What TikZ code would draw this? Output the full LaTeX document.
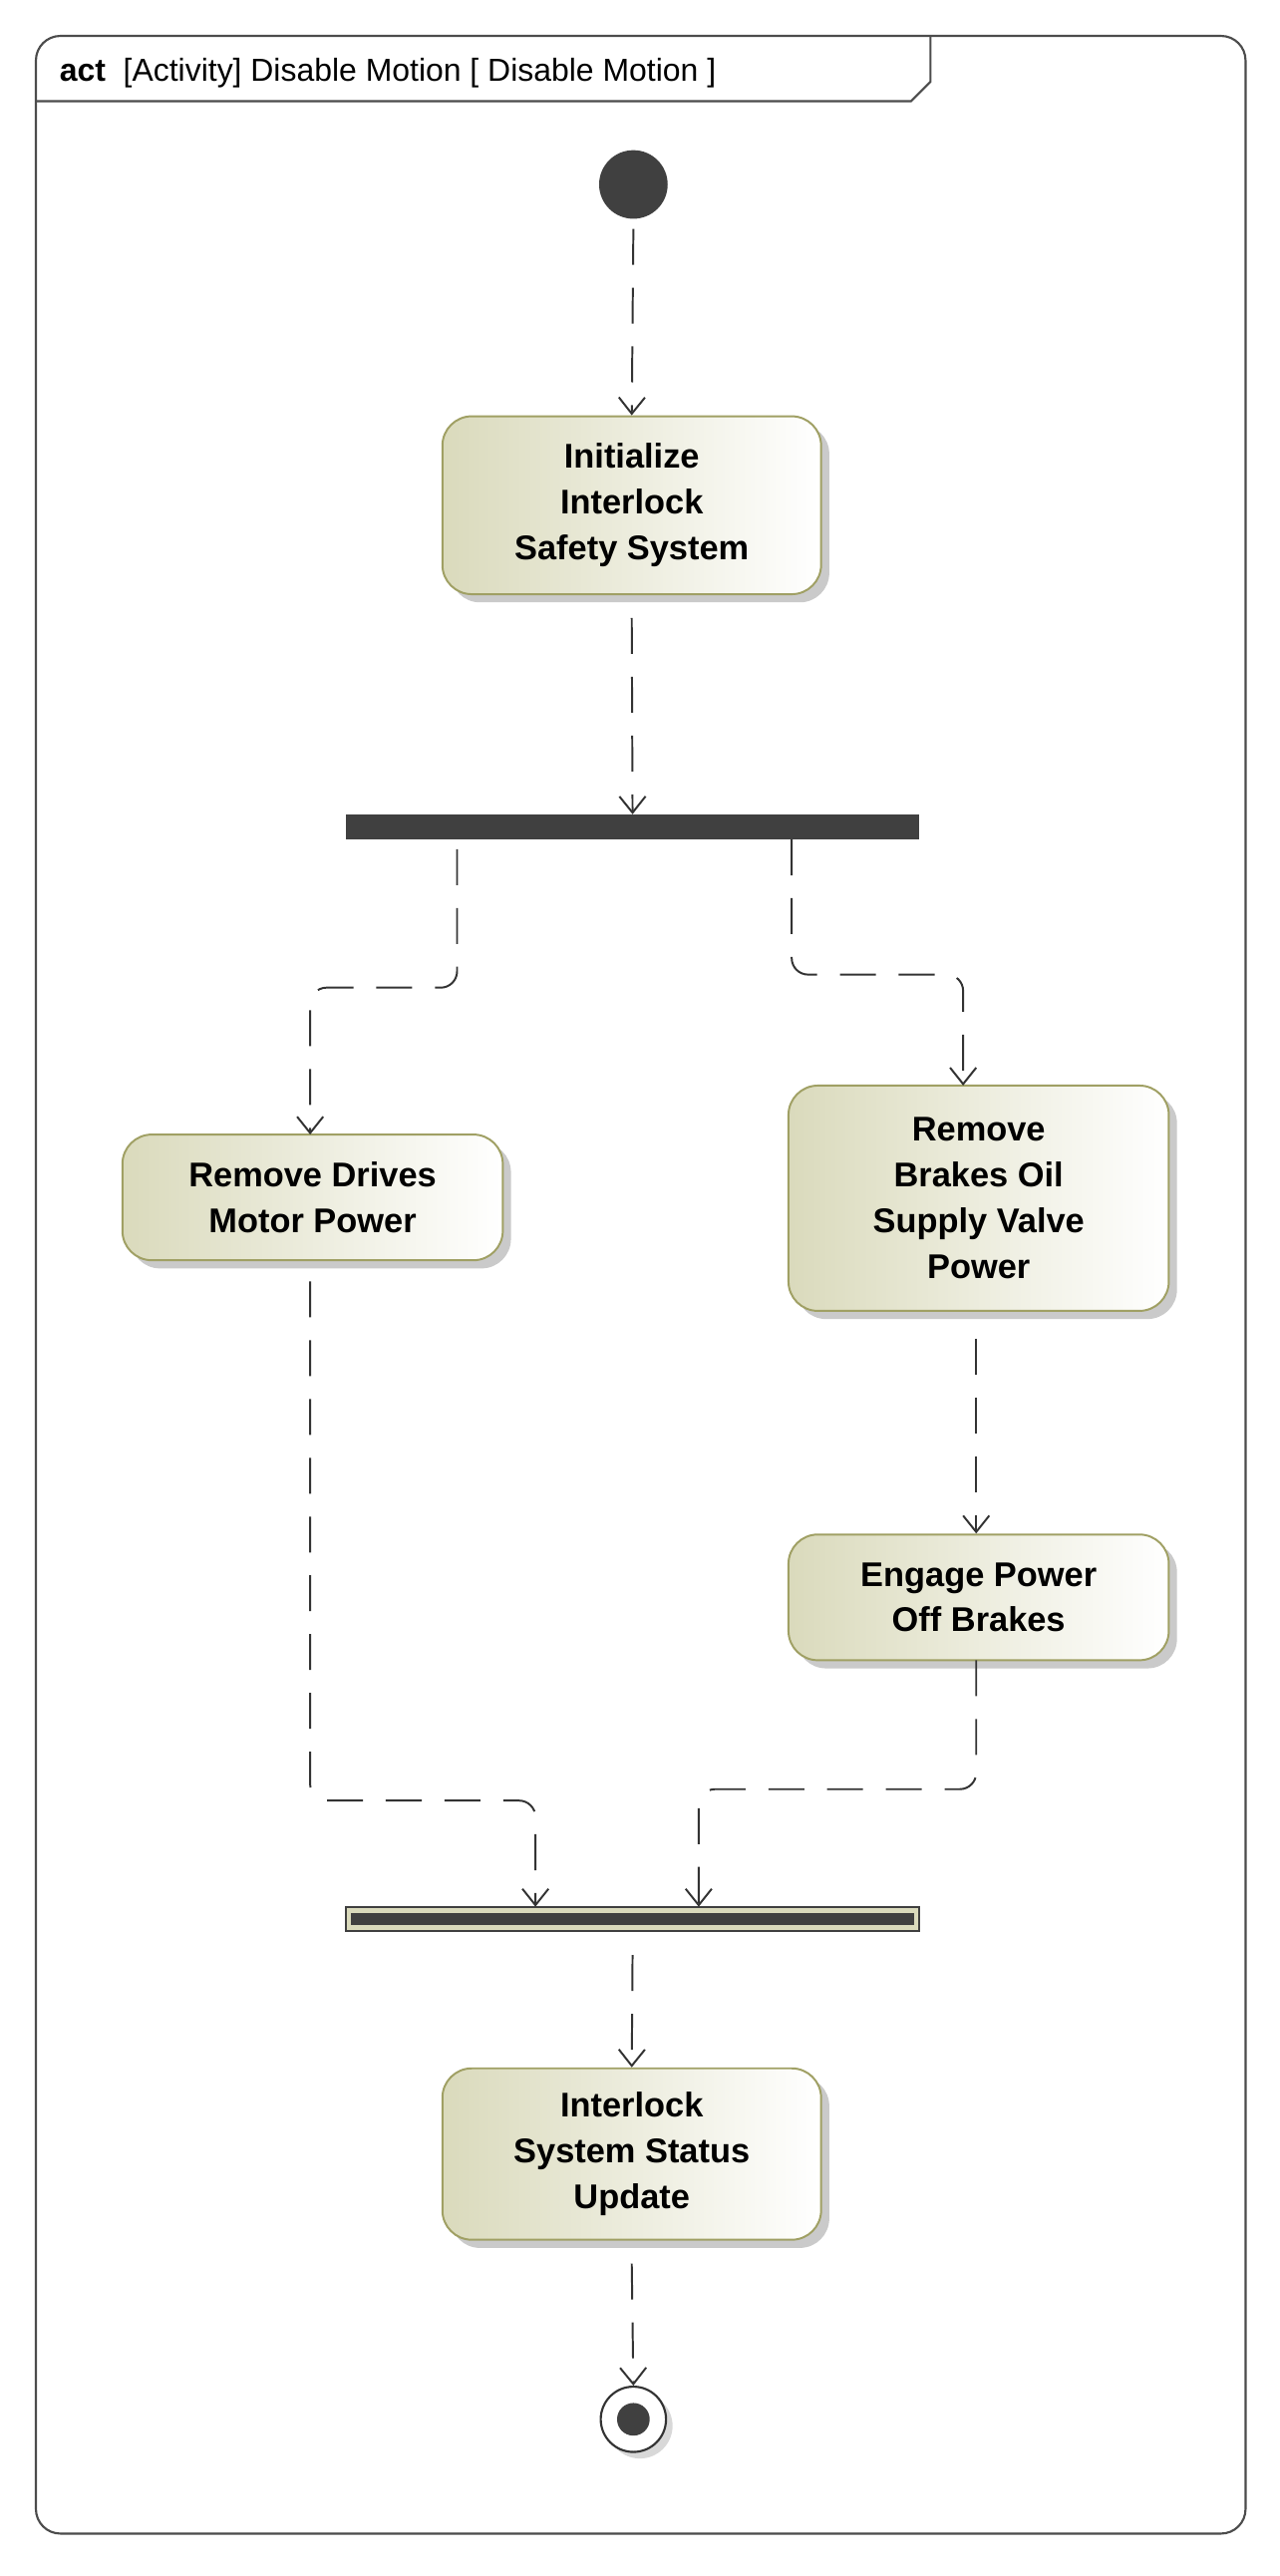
\documentclass[tikz,border=0pt]{standalone}
\usepackage{fontspec}
\setmainfont{Liberation Sans}
\usetikzlibrary{arrows.meta,shadows}
\definecolor{boxborder}{RGB}{160,160,100}
\definecolor{boxfill}{RGB}{218,218,188}
\definecolor{bar}{RGB}{64,64,64}
\tikzset{
  act/.style={draw=boxborder, line width=1.2pt, rounded corners=18pt, left color=boxfill, right color=white,
    align=center, font=\fontsize{21}{28}\selectfont\bfseries, inner sep=0pt,
    drop shadow={shadow xshift=5pt, shadow yshift=-5pt, fill=black!35, opacity=0.6}},
  flow/.style={draw=black!80, line width=1.2pt, dash pattern=on 22pt off 14pt, rounded corners=10pt,
    -{Straight Barb[length=10pt,width=16pt,line width=1.2pt]}}
}
\begin{document}
\begin{tikzpicture}[x=1pt,y=-1pt]
\useasboundingbox (0,0) rectangle (784,1578);
% frame
\draw[black!70, line width=1.3pt, rounded corners=15pt] (22,22) rectangle (763,1552);
\draw[black!70, line width=1.3pt] (22,62) -- (558,62) -- (570,50) -- (570,22);
\node[anchor=west, font=\fontsize{19.5}{22}\selectfont] (title) at (33,45) {\textbf{act}\ \ [Activity] Disable Motion [ Disable Motion ]};
% nodes
\node[circle, fill=bar, minimum size=42pt, inner sep=0pt] (init) at (388,113) {};
\node[act, minimum width=232pt, minimum height=109pt] (a1) at (387,309.5) {Initialize\\Interlock\\Safety System};
\node[fill=bar, minimum width=351pt, minimum height=15pt, inner sep=0pt] (fork) at (387.5,506.5) {};
\node[act, minimum width=233pt, minimum height=77pt] (a2) at (191.5,733.5) {Remove Drives\\Motor Power};
\node[act, minimum width=233pt, minimum height=138pt] (a3) at (599.5,734) {Remove\\Brakes Oil\\Supply Valve\\Power};
\node[act, minimum width=233pt, minimum height=77pt] (a4) at (599.5,978.5) {Engage Power\\Off Brakes};
\node[draw=bar, fill=boxfill, line width=1.2pt, minimum width=351pt, minimum height=15pt, inner sep=0pt] (join) at (387.5,1175.5) {};
\fill[bar] (215,1172) rectangle (560,1179);
\node[act, minimum width=232pt, minimum height=105pt] (a5) at (387,1319.5) {Interlock\\System Status\\Update};
\node[circle, draw=black!80, fill=white, line width=1.3pt, minimum size=40pt, inner sep=0pt,
  drop shadow={shadow xshift=4pt, shadow yshift=-4pt, fill=black!30}] (final) at (388,1482) {};
\fill[bar] (final) circle (10pt);
% flows
\draw[flow] (init.south) ++(0,6) -- (a1.north);
\draw[flow] ([yshift=-14pt]a1.south) -- (fork.north);
\draw[flow] ([xshift=-107.5pt]fork.south) ++(0,6) -- (280,605) -- (190,605) -- (190,695);
\draw[flow] ([xshift=97.5pt]fork.south) -- (485,597) -- (590,597) -- (590,665);
\draw[flow] (598,820) -- (a4.north -| 598,0);
\draw[flow] (190,785) -- (190,1103) -- (328,1103) -- (328,1168);
\draw[flow] (598,1017) -- (598,1096) -- (428,1096) -- (428,1168);
\draw[flow] ([yshift=-14pt]join.south) -- (a5.north);
\draw[flow] ([yshift=-14pt]a5.south) -- (final.north);
\end{tikzpicture}
\end{document}
